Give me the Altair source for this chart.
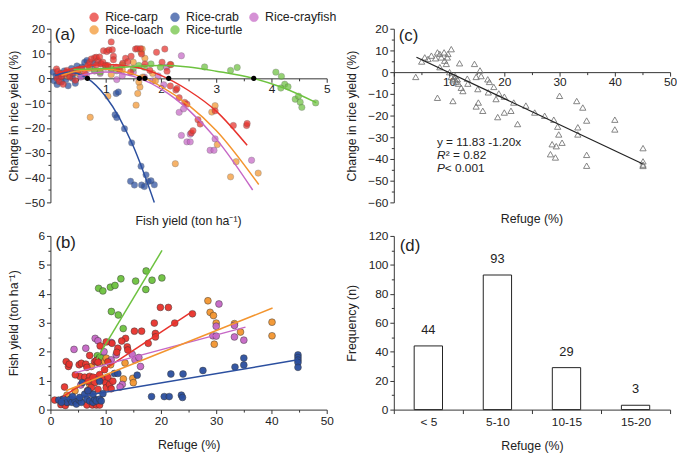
import altair as alt
import pandas as pd

FONT = "Liberation Sans"
groups = ["Rice-carp", "Rice-crab", "Rice-crayfish", "Rice-loach", "Rice-turtle"]
colors = ["#e8322c", "#2b4f9f", "#c667c6", "#f3952f", "#6dc23f"]

# ---------------- panel (a): change in rice yield vs fish yield ----------------
a_carp_x = [0.11, 0.13, 0.12, 0.16, 0.19, 0.20, 0.27, 0.23, 0.30, 0.35, 0.40, 0.45, 0.50, 0.56, 0.62, 0.68, 0.71, 0.74, 0.80, 0.83, 0.86, 0.89, 0.83, 0.92, 0.95, 0.96, 1.00, 1.02, 1.06, 1.04, 1.10, 1.12, 1.14, 1.14, 1.19, 1.25, 1.31, 1.36, 1.40, 1.45, 1.46, 1.54, 1.57, 1.63, 1.65, 1.71, 1.80, 1.92, 2.02, 2.07, 2.11, 2.17, 2.17, 2.27, 2.29, 2.33, 2.43, 2.47, 2.55, 2.58, 2.67, 2.71, 2.98, 3.31, 3.55, 3.56]
a_carp_y = [3.8, 2.8, 0.0, -1.3, 1.9, 0.7, 1.9, -2.4, 3.2, 0.5, 2.2, -0.8, 3.0, 3.9, 2.0, 5.3, 6.5, 7.8, 8.3, 8.5, 7.1, 8.6, 5.4, 5.9, 6.5, 11.1, 5.3, 10.8, 11.4, 5.2, 14.7, 11.5, 8.9, 7.5, 4.5, 3.5, 6.1, 8.1, 6.7, 2.5, 8.9, 11.8, 12.0, 12.0, 9.8, 5.8, 3.2, 10.5, 6.5, 11.8, 2.9, 5.6, -3.1, -4.7, -4.1, -7.8, -9.7, -10.4, -22.0, -21.1, -16.7, -18.4, -13.1, -19.0, -19.0, -18.2]
a_crab_x = [0.05, 0.07, 0.10, 0.12, 0.15, 0.18, 0.20, 0.22, 0.25, 0.28, 0.30, 0.32, 0.35, 0.38, 0.40, 0.42, 0.45, 0.48, 0.50, 0.55, 0.57, 0.62, 0.66, 0.72, 0.78, 1.19, 1.23, 1.17, 1.20, 1.34, 1.47, 1.64, 1.73, 1.45, 1.52, 1.65, 1.70, 1.77, 1.82, 1.88]
a_crab_y = [2.5, -1.0, 1.0, -2.5, 0.5, 2.0, -1.5, 1.5, 3.0, -0.5, 2.5, -3.0, 1.0, 4.0, 0.0, 2.0, -2.0, 5.0, 3.5, 1.0, 4.6, 6.5, 7.2, 4.5, 6.0, -6.1, -5.5, -14.7, -15.8, -20.3, -26.0, -35.4, -38.9, -41.5, -43.0, -43.0, -43.6, -41.6, -41.3, -42.9]
a_cray_x = [0.55, 0.65, 0.80, 0.90, 0.90, 1.00, 1.10, 1.20, 1.30, 1.50, 1.70, 1.85, 1.95, 2.05, 2.10, 2.37, 2.33, 2.41, 2.37, 2.53, 2.47, 2.53, 2.89, 2.96, 2.98, 3.64]
a_cray_y = [0.5, 1.5, 3.0, 2.0, 6.0, 4.5, 3.5, -0.5, 1.0, 2.5, 0.5, -1.0, 1.0, -2.6, 4.5, 9.1, -13.7, -12.3, -23.0, -22.5, -25.6, -25.6, -29.0, -29.0, -24.4, -33.0]
a_loach_x = [0.30, 0.50, 0.70, 0.72, 0.90, 1.04, 1.10, 1.30, 1.50, 1.55, 1.58, 1.62, 1.60, 1.64, 1.66, 1.67, 1.71, 1.85, 1.90, 2.18, 2.26, 2.92, 2.98, 3.02, 3.26, 3.36, 3.76]
a_loach_y = [1.0, 2.0, 4.0, -15.7, 3.0, -7.2, 1.5, 3.5, 6.5, -10.8, -6.1, -3.5, -1.5, 10.5, 11.8, 0.5, 8.1, 2.0, -1.0, 5.5, -34.4, -13.6, -11.0, -26.7, -39.7, -33.6, -38.2]
a_turtle_x = [0.80, 0.90, 1.00, 1.10, 1.20, 1.30, 1.50, 1.60, 1.70, 1.82, 1.99, 2.79, 3.26, 3.38, 4.08, 4.18, 4.24, 4.30, 4.17, 4.43, 4.49, 4.52, 4.55, 4.80]
a_turtle_y = [3.0, 2.5, 5.0, 4.0, 3.0, 5.5, 4.0, 5.2, 4.5, 5.8, 4.5, 4.6, 3.2, 4.4, 2.5, 0.8, -2.4, -3.4, -3.9, -8.4, -7.2, -9.6, -11.7, -9.9]

# fitted curves
curve_carp_x = [0.10, 0.5, 1.0, 1.5, 2.0, 2.5, 3.0, 3.56]
curve_carp_y = [1.8, 4.5, 5.6, 4.7, 1.2, -4.9, -13.2, -27.0]
curve_crab_x = [0.08, 0.33, 0.67, 1.0, 1.25, 1.5, 1.88]
curve_crab_y = [1.1, 2.5, 0.0, -7.3, -16.0, -27.4, -50.0]
curve_cray_x = [0.50, 1.0, 1.5, 1.61, 2.0, 2.5, 3.0, 3.66]
curve_cray_y = [1.0, 2.6, 0.8, 0.0, -4.2, -12.7, -24.4, -45.0]
curve_loach_x = [0.20, 0.5, 1.0, 1.5, 1.71, 2.0, 2.5, 3.0, 3.77]
curve_loach_y = [1.2, 3.0, 3.7, 1.7, 0.0, -3.2, -10.8, -21.0, -42.8]
curve_turtle_x = [0.42, 1.0, 1.5, 2.0, 2.5, 3.0, 3.68, 4.2, 4.81]
curve_turtle_y = [3.6, 4.0, 4.8, 5.2, 4.6, 2.9, 0.0, -3.7, -9.8]
cross_x = [0.67, 1.61, 1.71, 2.14, 3.68]
cross_y = [0, 0, 0, 0, 0]

# ---------------- panel (b): fish yield vs refuge ----------------
b_carp_x = [19.9, 21.35, 25.7, 22.5, 18.8, 19.0, 19.0, 15.2, 16.5, 17.7, 13.6, 13.9, 14.0, 12.9, 12.2, 12.0, 11.15, 10.1, 2.85, 3.26, 3.4, 5.2, 5.6, 6.4, 6.6, 7.1, 8.0, 8.3, 8.6, 9.8, 5.3, 6.2, 7.1, 6.8, 7.7, 8.0, 8.9, 9.5, 10.0, 10.1, 10.4, 10.7, 11.0, 11.3, 6.7, 7.4, 8.6, 0.77, 1.9, 2.7, 3.1, 2.25, 6.6, 7.6, 8.3, 8.9, 2.55, 9.0, 10.4, 4.5]
b_carp_y = [3.53, 3.53, 3.31, 2.99, 2.99, 2.63, 2.51, 2.71, 2.71, 2.29, 2.46, 2.17, 2.06, 2.37, 2.12, 1.98, 2.29, 2.34, 1.66, 1.49, 1.57, 1.55, 1.60, 1.57, 1.46, 1.87, 1.66, 1.69, 1.64, 1.38, 1.15, 1.12, 1.15, 0.98, 1.12, 0.93, 1.21, 1.04, 0.93, 0.76, 1.12, 0.87, 0.72, 0.98, 0.65, 0.76, 0.70, 0.33, 0.17, 0.14, 0.25, 0.36, 0.16, 0.16, 0.16, 0.16, 0.78, 2.20, 1.65, 1.20]
b_crab_x = [44.8, 44.8, 44.8, 44.8, 44.8, 35.0, 35.0, 33.4, 27.6, 24.0, 21.8, 15.7, 11.6, 12.2, 18.3, 20.6, 21.5, 23.7, 23.9, 1.5, 2.4, 3.0, 3.6, 3.9, 4.45, 4.7, 5.2, 5.6, 5.3, 6.2, 6.6, 7.1, 7.7, 8.0, 8.3, 8.9, 9.2, 7.7, 5.75, 6.8, 9.5, 8.9, 4.0, 2.0]
b_crab_y = [1.89, 1.80, 1.71, 1.63, 1.46, 1.78, 1.54, 1.47, 1.35, 1.23, 1.23, 1.19, 1.25, 1.25, 0.45, 0.45, 0.45, 0.50, 0.42, 0.33, 0.36, 0.25, 0.36, 0.25, 0.30, 0.19, 0.33, 0.25, 0.42, 0.53, 0.36, 0.30, 0.25, 0.36, 0.30, 0.36, 0.30, 0.53, 0.93, 0.65, 0.55, 0.98, 0.45, 0.25]
b_cray_x = [30.5, 30.0, 29.4, 30.0, 33.3, 33.3, 35.0, 4.27, 6.4, 8.1, 8.6, 9.7, 11.0, 11.9, 14.8, 15.3, 16.0, 16.3, 11.0, 8.3, 13.0, 12.6, 7.1, 8.0, 5.5]
b_cray_y = [3.65, 2.88, 2.55, 2.54, 2.51, 2.91, 2.40, 2.08, 2.12, 2.46, 2.38, 2.00, 2.32, 1.89, 1.91, 1.72, 1.80, 1.49, 1.72, 1.10, 0.87, 0.78, 0.59, 0.20, 0.85]
b_loach_x = [28.5, 28.9, 29.5, 30.0, 29.65, 33.3, 34.4, 40.1, 40.1, 14.9, 15.0, 13.2, 13.5, 4.45, 7.4, 8.9, 9.8, 10.1, 7.1, 10.9, 3.0]
b_loach_y = [3.76, 3.36, 3.25, 2.99, 2.26, 2.97, 2.68, 3.02, 2.55, 1.08, 0.93, 1.06, 1.61, 0.65, 1.49, 1.60, 1.66, 1.78, 0.87, 1.55, 0.50]
b_turtle_x = [8.72, 9.49, 10.85, 11.68, 12.75, 15.42, 17.32, 17.26, 18.39, 20.17, 11.03, 12.28, 13.17, 8.48, 8.9, 8.6, 9.2, 8.3]
b_turtle_y = [4.19, 4.10, 4.23, 4.29, 4.52, 4.44, 4.79, 4.15, 4.47, 4.55, 3.39, 3.27, 2.80, 1.86, 1.80, 1.72, 1.78, 1.65]

# regression lines (end points)
line_b_x0 = [2.3, 1.5, 4.4, 2.8, 8.4]
line_b_y0 = [0.45, 0.33, 1.27, 0.65, 1.75]
line_b_x1 = [25.7, 44.8, 35.3, 40.2, 20.2]
line_b_y1 = [3.39, 1.72, 2.85, 3.51, 5.5]

# ---------------- panel (c): change in rice yield vs refuge ----------------
c_x = [3.97, 5.04, 5.6, 6.2, 6.8, 7.55, 7.9, 8.33, 8.6, 9.1, 9.2, 9.5, 9.7, 9.8, 10.4, 8.33, 10.1, 10.4, 10.7, 11.0, 11.3, 11.7, 11.9, 12.5, 12.2, 13.3, 13.4, 10.7, 7.9, 14.6, 14.9, 15.2, 15.6, 15.8, 14.9, 15.3, 16.1, 17.0, 17.3, 17.1, 18.1, 18.5, 18.8, 19.0, 20.0, 20.0, 21.2, 21.7, 22.4, 23.9, 25.5, 27.3, 28.35, 28.65, 28.95, 29.25, 29.4, 29.65, 29.85, 30.0, 30.45, 33.1, 33.3, 33.3, 34.2, 34.9, 34.9, 34.9, 40.0, 40.0, 45.1, 45.1, 45.1, 45.1, 11.1, 11.5]
c_y = [-2.2, 4.9, 6.8, 6.1, 7.6, 6.4, 9.1, 8.4, 6.8, 9.1, 5.3, 3.8, 6.8, 8.4, 10.6, 2.3, 0.0, -2.2, -3.7, -3.0, -4.5, -5.3, 4.1, -8.7, -7.2, -3.0, -5.3, -13.3, -11.8, 3.8, -2.2, -7.8, 0.8, -1.8, -15.8, -14.0, -17.8, -3.3, -4.5, -9.3, -6.8, -12.4, -20.7, -9.8, -11.3, -18.6, -17.8, -14.0, -23.9, -15.4, -18.6, -20.1, -37.8, -33.2, -21.9, -39.3, -34.1, -25.1, -28.7, -10.9, -32.5, -13.3, -25.4, -28.7, -16.3, -22.3, -38.1, -43.1, -21.9, -26.4, -35.0, -41.1, -42.6, -43.2, -1.8, -3.3]
c_line_x = [4.1, 45.0]
c_line_y = [6.9, -42.2]

# ---------------- panel (d): frequency of refuge classes ----------------
d_classes = ["< 5", "5-10", "10-15", "15-20"]
d_counts = [44, 93, 29, 3]

# tick positions
a_xmajor = [0, 1, 2, 3, 4, 5]
a_xminor = [0.5, 1.5, 2.5, 3.5, 4.5]
a_ymajor = [-50, -40, -30, -20, -10, 0, 10, 20]
a_yminor = [-45, -35, -25, -15, -5, 5, 15]
b_xmajor = [0, 10, 20, 30, 40, 50]
b_xminor = [5, 15, 25, 35, 45]
b_ymajor = [0, 1, 2, 3, 4, 5, 6]
b_yminor = [0.5, 1.5, 2.5, 3.5, 4.5, 5.5]
c_xmajor = [0, 10, 20, 30, 40, 50]
c_xminor = [5, 15, 25, 35, 45]
c_ymajor = [-60, -50, -40, -30, -20, -10, 0, 10, 20]
c_yminor = [-55, -45, -35, -25, -15, -5, 5, 15]
d_ymajor = [0, 20, 40, 60, 80, 100, 120]
d_yminor = [10, 30, 50, 70, 90, 110]

W, H = 280, 176
AX = dict(domainColor="#333", tickColor="#333", labelColor="#222", titleColor="#222",
          labelFont=FONT, titleFont=FONT, labelFontSize=12, titleFontSize=12.5,
          titleFontWeight="normal", grid=False, labelOverlap=False, labelFlush=False, tickCount=50)
QAX = dict(AX, format="d")
MINOR = dict(labels=False, domain=False, title=None, tickSize=2.5, tickColor="#333", grid=False, tickCount=50)
BOTTOM_TITLE = dict(orient="bottom", frame="group", fontSize=12.5, fontWeight="normal",
                    font=FONT, color="#222", anchor="middle")


def points_df(xs_list, ys_list):
    rows = []
    for g, xs, ys in zip(groups, xs_list, ys_list):
        for x, y in zip(xs, ys):
            rows.append({"x": x, "y": y, "g": g})
    return pd.DataFrame(rows)


def label_text(x, y, t):
    return alt.Chart(pd.DataFrame({"x": [x], "y": [y], "t": [t]})).mark_text(
        align="left", baseline="middle", fontSize=17, font=FONT, color="#222").encode(
        x="x:Q", y="y:Q", text="t:N")


color_scale = alt.Scale(domain=groups, range=colors)

# ---- (a)
a_pts = points_df([a_carp_x, a_crab_x, a_cray_x, a_loach_x, a_turtle_x],
                  [a_carp_y, a_crab_y, a_cray_y, a_loach_y, a_turtle_y])
a_pts["o"] = a_pts["g"].map({"Rice-crab": 0, "Rice-crayfish": 1, "Rice-loach": 2, "Rice-turtle": 3, "Rice-carp": 4})
a_curves = points_df([curve_carp_x, curve_crab_x, curve_cray_x, curve_loach_x, curve_turtle_x],
                     [curve_carp_y, curve_crab_y, curve_cray_y, curve_loach_y, curve_turtle_y])
a_cross = pd.DataFrame({"x": cross_x, "y": cross_y})
a_off = -(H * 50 / 70)
a_xs = alt.Scale(domain=[0, 5], nice=False, zero=False)
a_ys = alt.Scale(domain=[-50, 20], nice=False)

a_points = alt.Chart(a_pts).mark_point(filled=True, size=42, opacity=0.72, stroke="#555",
                                       strokeWidth=0.4).encode(
    x=alt.X("x:Q", scale=a_xs,
            axis=alt.Axis(values=a_xmajor, offset=a_off, title=None, tickSize=4,
                          labelExpr="datum.value == 0 ? '' : datum.label", labelPadding=1, **QAX)),
    y=alt.Y("y:Q", scale=a_ys,
            axis=alt.Axis(values=a_ymajor, title="Change in rice yield (%)", tickSize=4,
                          minExtent=26, maxExtent=26, titlePadding=4, labelPadding=2, **QAX)),
    color=alt.Color("g:N", scale=color_scale,
                    legend=alt.Legend(orient="none", legendX=38, legendY=-18, direction="horizontal",
                                      columns=3, title=None, symbolType="circle", symbolSize=80,
                                      symbolStrokeColor="#555", symbolStrokeWidth=0.5,
                                      labelFont=FONT, labelFontSize=12.5, labelColor="#222",
                                      gridAlign="each", columnPadding=5, rowPadding=0, labelOffset=5)),
    order=alt.Order("o:Q"))
a_lines = alt.Chart(a_curves).mark_line(strokeWidth=1.5, interpolate="monotone").encode(
    x="x:Q", y="y:Q", color=alt.Color("g:N", scale=color_scale, legend=None), detail="g:N")
a_dots = alt.Chart(a_cross).mark_circle(color="black", size=28, opacity=1).encode(x="x:Q", y="y:Q")
a_minor = alt.Chart(a_cross).mark_point(opacity=0).encode(
    x=alt.X("x:Q", scale=a_xs, axis=alt.Axis(orient="bottom", values=a_xminor, offset=a_off, **MINOR)),
    y=alt.Y("y:Q", scale=a_ys, axis=alt.Axis(orient="left", values=a_yminor, **MINOR)))

panel_a = alt.layer(alt.layer(a_points, a_lines, a_dots, label_text(0.08, 17.3, "(a)")), a_minor).resolve_axis(
    x="independent", y="independent").properties(
    width=W, height=H, title=alt.TitleParams("Fish yield (ton ha\u207b\u00b9)", offset=7, **BOTTOM_TITLE))

# ---- (b)
b_pts = points_df([b_carp_x, b_crab_x, b_cray_x, b_loach_x, b_turtle_x],
                  [b_carp_y, b_crab_y, b_cray_y, b_loach_y, b_turtle_y])
b_pts["o"] = b_pts["g"].map({"Rice-turtle": 0, "Rice-loach": 1, "Rice-crayfish": 2, "Rice-carp": 3, "Rice-crab": 4})
b_lines_df = pd.DataFrame({"g": groups + groups, "x": line_b_x0 + line_b_x1, "y": line_b_y0 + line_b_y1})
b_xs = alt.Scale(domain=[0, 50], nice=False)
b_ys = alt.Scale(domain=[0, 6], nice=False)
b_points = alt.Chart(b_pts).mark_point(filled=True, size=48, opacity=0.95, stroke="#333",
                                       strokeWidth=0.5).encode(
    x=alt.X("x:Q", scale=b_xs, axis=alt.Axis(values=b_xmajor, title="Refuge (%)", titlePadding=12,
                                             tickSize=4, labelPadding=2, **QAX)),
    y=alt.Y("y:Q", scale=b_ys, axis=alt.Axis(values=b_ymajor, title="Fish yield (ton ha\u207b\u00b9)", tickSize=4,
                                             minExtent=26, maxExtent=26, titlePadding=4, labelPadding=2, **QAX)),
    color=alt.Color("g:N", scale=color_scale, legend=None), order=alt.Order("o:Q"))
b_lines = alt.Chart(b_lines_df).mark_line(strokeWidth=1.5).encode(
    x="x:Q", y="y:Q", color=alt.Color("g:N", scale=color_scale, legend=None), detail="g:N")
b_minor = alt.Chart(b_lines_df).mark_point(opacity=0).encode(
    x=alt.X("x:Q", scale=b_xs, axis=alt.Axis(orient="bottom", values=b_xminor, **MINOR)),
    y=alt.Y("y:Q", scale=b_ys, axis=alt.Axis(orient="left", values=b_yminor, **MINOR)))
panel_b = alt.layer(alt.layer(b_points, b_lines, label_text(0.9, 5.75, "(b)")), b_minor).resolve_axis(
    x="independent", y="independent").properties(width=W, height=H)

# ---- (c)
c_df = pd.DataFrame({"x": c_x, "y": c_y})
c_line_df = pd.DataFrame({"x": c_line_x, "y": c_line_y})
c_off = -(H * 60 / 80)
c_xs = alt.Scale(domain=[0, 50], nice=False)
c_ys = alt.Scale(domain=[-60, 20], nice=False)
c_points = alt.Chart(c_df).mark_point(shape="triangle-up", filled=False, size=40, stroke="#777",
                                      strokeWidth=0.9, opacity=1).encode(
    x=alt.X("x:Q", scale=c_xs, axis=alt.Axis(values=c_xmajor, offset=c_off, title=None, tickSize=4,
                                             labelExpr="datum.value == 0 ? '' : datum.label",
                                             labelPadding=1, **QAX)),
    y=alt.Y("y:Q", scale=c_ys, axis=alt.Axis(values=c_ymajor, title="Change in rice yield (%)", tickSize=4,
                                             minExtent=26, maxExtent=26, titlePadding=10, labelPadding=2, **QAX)))
c_line = alt.Chart(c_line_df).mark_line(color="#222", strokeWidth=1.2).encode(x="x:Q", y="y:Q")
c_txt = pd.DataFrame({"x": [7.8, 7.8, 7.8, 7.8, 7.8], "y": [-32.3, -38.3, -38.3, -44.3, -44.3],
                      "t": ["y = 11.83 -1.20x", "R", "\u00b2 = 0.82", "P", " < 0.001"],
                      "dx": [0, 0, 9, 0, 8], "st": ["normal", "italic", "normal", "italic", "normal"]})
c_text_parts = []
for i in range(len(c_txt)):
    row = c_txt.iloc[[i]]
    c_text_parts.append(alt.Chart(row).mark_text(
        align="left", baseline="middle", fontSize=12, font=FONT, color="#222",
        dx=int(row["dx"].iloc[0]), fontStyle=row["st"].iloc[0]).encode(x="x:Q", y="y:Q", text="t:N"))
c_minor = alt.Chart(c_line_df).mark_point(opacity=0).encode(
    x=alt.X("x:Q", scale=c_xs, axis=alt.Axis(orient="bottom", values=c_xminor, offset=c_off, **MINOR)),
    y=alt.Y("y:Q", scale=c_ys, axis=alt.Axis(orient="left", values=c_yminor, **MINOR)))
panel_c = alt.layer(alt.layer(c_points, c_line, *c_text_parts, label_text(0.9, 16.5, "(c)")), c_minor).resolve_axis(
    x="independent", y="independent").properties(
    width=W, height=H, title=alt.TitleParams("Refuge (%)", offset=5, **BOTTOM_TITLE))

# ---- (d)
d_df = pd.DataFrame({"c": d_classes, "n": d_counts})
d_ys = alt.Scale(domain=[0, 120], nice=False)
d_bars = alt.Chart(d_df).mark_bar(fill="white", stroke="#222", strokeWidth=1,
                                  width=alt.RelativeBandSize(0.41)).encode(
    x=alt.X("c:N", sort=d_classes, scale=alt.Scale(paddingInner=0, paddingOuter=0),
            axis=alt.Axis(labelAngle=0, tickBand="extent", title="Refuge (%)", titlePadding=12,
                          tickSize=4, labelPadding=3, **AX)),
    y=alt.Y("n:Q", scale=d_ys, axis=alt.Axis(values=d_ymajor, title="Frequency (n)", tickSize=4,
                                             minExtent=26, maxExtent=26, titlePadding=10, labelPadding=2, **QAX)))
d_text = alt.Chart(d_df).mark_text(baseline="bottom", dy=-9, fontSize=13, font=FONT, color="#222").encode(
    x=alt.X("c:N", sort=d_classes), y="n:Q", text="n:Q")
d_lab = alt.Chart(pd.DataFrame({"n": [113], "t": ["(d)"]})).mark_text(
    align="left", baseline="middle", fontSize=17, font=FONT, color="#222").encode(
    x=alt.value(6), y="n:Q", text="t:N")
d_minor = alt.Chart(d_df).mark_point(opacity=0).encode(
    y=alt.Y("n:Q", scale=d_ys, axis=alt.Axis(orient="left", values=d_yminor, **MINOR)))
panel_d = alt.layer(alt.layer(d_bars, d_text, d_lab), d_minor).resolve_axis(
    y="independent").properties(width=W, height=H)

chart = alt.concat(panel_a, panel_c, panel_b, panel_d, columns=2,
                   spacing={"row": 34, "column": 68}, bounds="flush").resolve_scale(
    color="independent").properties(padding=0).configure_view(stroke=None)

chart.save("out.html", embed_options={"renderer": "svg", "actions": False})
